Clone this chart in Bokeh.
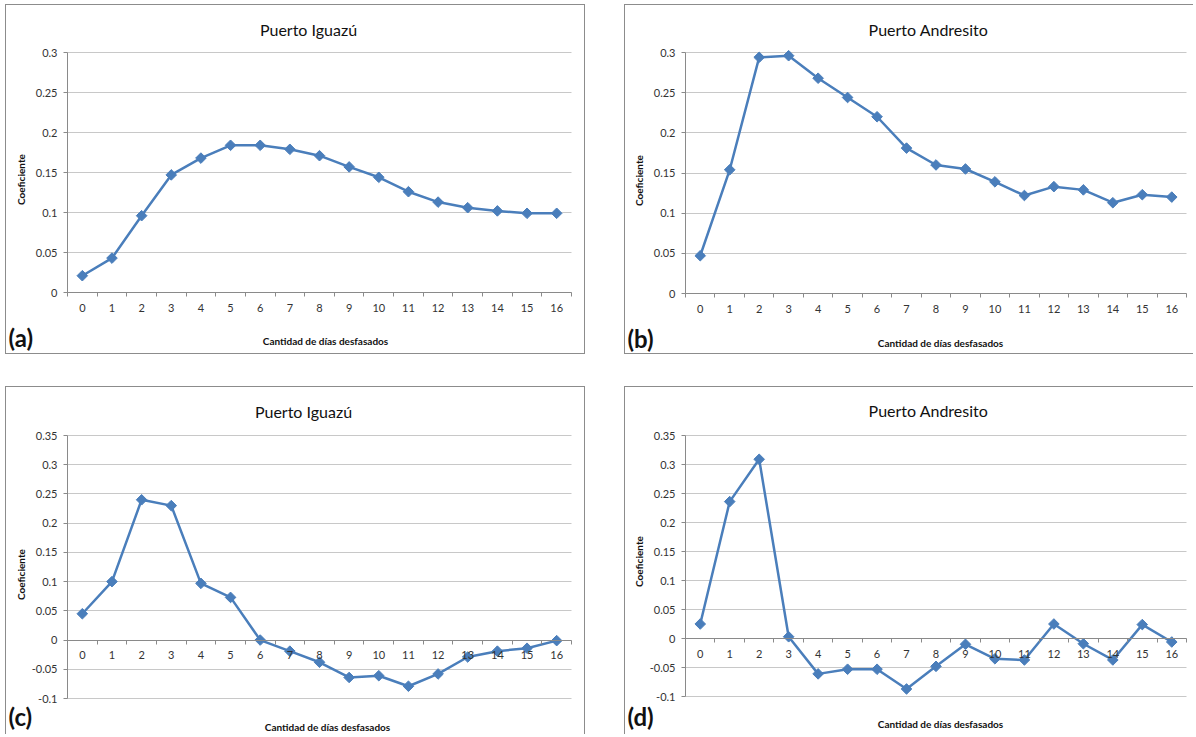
import numpy as np
from bokeh.plotting import figure
from bokeh.layouts import row, column, Spacer
from bokeh.models import (FixedTicker, NumeralTickFormatter, Label, Grid,
                          LinearAxis, Range1d, ColumnDataSource)
from bokeh.embed import file_html
from bokeh.resources import INLINE

# Lag in days (0..16) and the correlation coefficient for each station
dias = list(range(17))
iguazu_a = [0.021, 0.043, 0.096, 0.147, 0.168, 0.184, 0.184, 0.179, 0.171,
            0.157, 0.144, 0.126, 0.113, 0.106, 0.102, 0.099, 0.099]
andresito_b = [0.047, 0.154, 0.294, 0.296, 0.268, 0.244, 0.220, 0.181, 0.160,
               0.155, 0.139, 0.122, 0.133, 0.129, 0.113, 0.123, 0.120]
iguazu_c = [0.045, 0.100, 0.240, 0.230, 0.097, 0.073, 0.000, -0.019, -0.038,
            -0.064, -0.061, -0.079, -0.058, -0.029, -0.019, -0.014, -0.001]
andresito_d = [0.025, 0.236, 0.309, 0.003, -0.061, -0.053, -0.053, -0.087,
               -0.048, -0.010, -0.035, -0.037, 0.025, -0.009, -0.037, 0.024,
               -0.006]

y_ticks_top = [0, 0.05, 0.1, 0.15, 0.2, 0.25, 0.3]
y_ticks_bottom = [-0.1, -0.05, 0, 0.05, 0.1, 0.15, 0.2, 0.25, 0.3, 0.35]

X_TITLE = "Cantidad de días desfasados"
Y_TITLE = "Coeficiente"

FONT = "Lato"
BLUE = "#4A7EBB"
GRID = "#c8c8c8"
AXIS = "#8a8a8a"
FRAME = "#8c8c8c"
TEXT = "#111111"
TICK_TEXT = "#333333"


def panel(title, values, yticks, letter, origin, size, borders, box,
          title_at, xtitle_at, ytitle_at, letter_at):
    """One chart box. The plotting frame fills the whole canvas; the
    ranges are padded so that the chart area sits at `box` (page pixels)."""
    ox, oy = origin
    W, H = size
    L, R, T, B = (box[0] - ox, box[1] - ox, box[2] - oy, box[3] - oy)
    ymin, ymax = yticks[0], yticks[-1]
    xs = 17.0 / (R - L)
    ys = (ymax - ymin) / (B - T)
    p = figure(width=W, height=H, output_backend="svg",
               toolbar_location=None, x_axis_type=None, y_axis_type=None,
               x_range=Range1d(-0.5 - L * xs, 16.5 + (W - R) * xs),
               y_range=Range1d(ymin - (H - B) * ys, ymax + T * ys),
               min_border=0)
    p.styles = {f"border-{side}": f"1px solid {FRAME}" for side in borders}
    p.background_fill_color = "white"
    p.border_fill_color = "white"
    p.outline_line_color = None

    # horizontal gridlines limited to the chart area
    p.add_layout(Grid(dimension=1, ticker=FixedTicker(ticks=yticks),
                      cross_bounds=(-0.5, 16.5), grid_line_color=GRID))

    # value axis
    ya = LinearAxis(fixed_location=-0.5, bounds=(ymin, ymax),
                    ticker=FixedTicker(ticks=yticks, minor_ticks=[]),
                    formatter=NumeralTickFormatter(format="0.[00]"))
    ya.major_tick_out = 4
    ya.major_tick_in = 0
    ya.major_tick_line_color = AXIS
    ya.axis_line_color = AXIS
    ya.major_label_standoff = 6
    ya.major_label_text_font = FONT
    ya.major_label_text_font_size = "11px"
    ya.major_label_text_color = TICK_TEXT
    p.add_layout(ya, "left")

    # category axis crossing at zero: labels at each day, ticks between days
    xa = LinearAxis(fixed_location=0, bounds=(-0.5, 16.5),
                    ticker=FixedTicker(ticks=dias,
                                       minor_ticks=[d - 0.5 for d in dias]
                                       + [16.5]))
    xa.major_tick_line_color = None
    xa.major_tick_out = 0
    xa.major_tick_in = 0
    xa.minor_tick_line_color = AXIS
    xa.minor_tick_out = 4
    xa.minor_tick_in = 0
    xa.major_label_standoff = 7
    xa.axis_line_color = AXIS
    xa.major_label_text_font = FONT
    xa.major_label_text_font_size = "11px"
    xa.major_label_text_color = TICK_TEXT
    p.add_layout(xa, "below")

    src = ColumnDataSource(dict(dia=dias, coef=values))
    p.line("dia", "coef", source=src, line_color=BLUE, line_width=2.5)
    p.scatter("dia", "coef", source=src, marker="square", angle=np.pi / 4,
              size=7.5, fill_color=BLUE, line_color=BLUE)

    def text(at, txt, size, style, align="center", angle=0.0):
        x, y = at
        p.add_layout(Label(x=x - ox, y=H - (y - oy), x_units="screen",
                           y_units="screen", text=txt, angle=angle,
                           text_font=FONT, text_font_size=size,
                           text_font_style=style, text_color=TEXT,
                           text_align=align, text_baseline="middle"))

    text(title_at, title, "16px", "normal")
    text(xtitle_at, X_TITLE, "10px", "bold")
    text(ytitle_at, Y_TITLE, "10px", "bold", angle=np.pi / 2)
    text(letter_at, letter, "24px", "bold", align="left")
    return p


pa = panel("Puerto Iguazú", iguazu_a, y_ticks_top, "(a)",
           (6, 5), (580, 350), ["top", "left", "right", "bottom"],
           (67, 571, 52, 292), (308, 29), (325, 340), (20, 179), (8, 337))
pb = panel("Puerto Andresito", andresito_b, y_ticks_top, "(b)",
           (627, 5), (569, 350), ["top", "left", "bottom"],
           (687, 1188, 52, 293), (930, 29), (942, 342), (640, 180),
           (629, 338))
pc = panel("Puerto Iguazú", iguazu_c, y_ticks_bottom, "(c)",
           (6, 389), (580, 348), ["top", "left", "right"],
           (67, 571, 437, 700), (303, 413), (327, 728), (20, 576), (8, 718))
pd = panel("Puerto Andresito", andresito_d, y_ticks_bottom, "(d)",
           (627, 389), (569, 348), ["top", "left"],
           (687, 1188, 437, 698), (930, 412), (942, 725), (640, 563),
           (629, 718))

layout = column(Spacer(height=4),
                row(Spacer(width=5), pa, Spacer(width=39), pb),
                Spacer(height=32),
                row(Spacer(width=5), pc, Spacer(width=39), pd))

open("out.html", "w").write(file_html(layout, INLINE))
